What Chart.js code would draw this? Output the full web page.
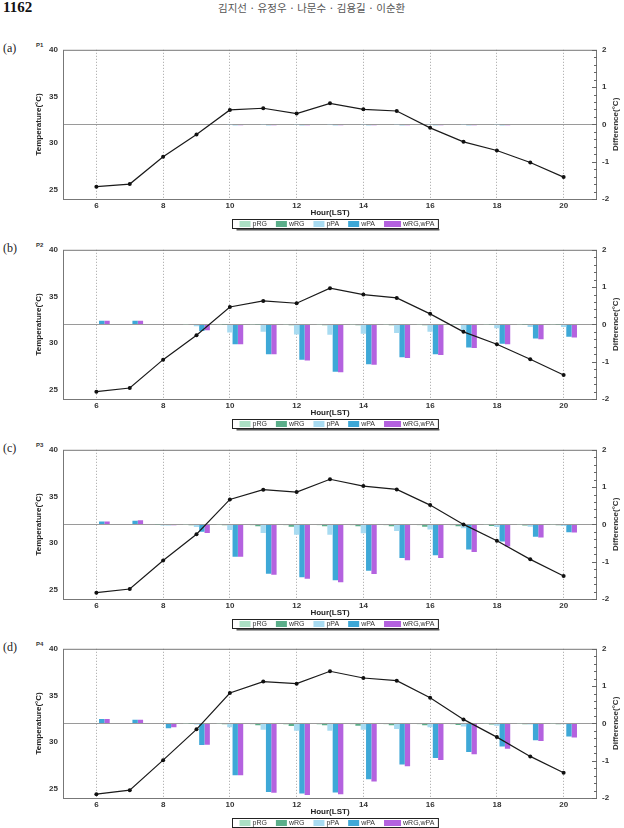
<!DOCTYPE html>
<html>
<head>
<meta charset="utf-8">
<script src="https://cdn.jsdelivr.net/npm/chart.js@4"></script>
<style>
body { margin: 0; background: #fff; width: 624px; height: 828px; position: relative; overflow: hidden; }
.panel { position: absolute; left: 0; width: 624px; height: 200px; }
.lab { position: absolute; left: 3px; font: 12px "Liberation Serif", serif; color: #222; }
.pn { position: absolute; left: 36px; font: bold 6px "Liberation Sans", sans-serif; color: #333; }
</style>
</head>
<body>
<div style="position:absolute;left:3px;top:-1px;font:bold 15px 'Liberation Serif',serif;color:#111">1162</div>
<div style="position:absolute;left:218px;top:0px;font:10.5px 'Noto Sans CJK KR',sans-serif;color:#555">김지선 · 유정우 · 나문수 · 김용길 · 이순환</div>

<div class="lab" style="top:41px">(a)</div><div class="pn" style="top:42px">P1</div>
<div class="lab" style="top:241px">(b)</div><div class="pn" style="top:242px">P2</div>
<div class="lab" style="top:441px">(c)</div><div class="pn" style="top:442px">P3</div>
<div class="lab" style="top:640px">(d)</div><div class="pn" style="top:641px">P4</div>

<canvas id="p1" class="panel" width="624" height="200" style="top:40px"></canvas>
<canvas id="p2" class="panel" width="624" height="200" style="top:240px"></canvas>
<canvas id="p3" class="panel" width="624" height="200" style="top:440px"></canvas>
<canvas id="p4" class="panel" width="624" height="200" style="top:639px"></canvas>

<script>
// horas (LST)
const hours = [6, 7, 8, 9, 10, 11, 12, 13, 14, 15, 16, 17, 18, 19, 20];
const seriesNames = ['pRG', 'wRG', 'pPA', 'wPA', 'wRG,wPA'];
const seriesColors = ['#acdfc4', '#5bae8a', '#a8dbf1', '#3ea8d7', '#b462df'];

// P1
const p1Temp  = [25.32, 25.6, 28.53, 30.91, 33.55, 33.73, 33.16, 34.26, 33.62, 33.44, 31.63, 30.13, 29.2, 27.92, 26.35];
const p1pRG   = [0, 0, 0, 0, 0, 0, 0, 0, 0, 0, 0, 0, 0, 0, 0];
const p1wRG   = [0, 0, 0, 0, 0, 0, 0, 0, 0, 0, 0, 0, 0, 0, 0];
const p1pPA   = [0, 0, 0, 0, -0.01, -0.01, -0.01, -0.01, -0.01, -0.01, -0.01, -0.01, -0.01, 0, 0];
const p1wPA   = [0, 0, 0, 0, -0.02, -0.02, -0.02, -0.02, -0.02, -0.02, -0.02, -0.02, -0.02, 0, 0];
const p1wRGwPA = [0, 0, 0, 0, -0.02, -0.02, -0.02, -0.02, -0.02, -0.02, -0.02, -0.02, -0.02, 0, 0];

// P2
const p2Temp  = [24.79, 25.18, 28.22, 30.83, 33.87, 34.52, 34.27, 35.88, 35.2, 34.84, 33.13, 31.2, 29.87, 28.26, 26.58];
const p2pRG   = [0, 0, 0, -0.01, -0.01, -0.01, -0.01, -0.01, -0.01, -0.01, -0.01, -0.01, -0.01, -0.01, -0.01];
const p2wRG   = [0, 0, 0, 0, -0.01, -0.01, -0.02, -0.02, -0.02, -0.02, -0.02, -0.01, -0.01, -0.01, -0.01];
const p2pPA   = [0, 0, 0, -0.05, -0.22, -0.2, -0.27, -0.28, -0.25, -0.23, -0.2, -0.15, -0.1, -0.07, -0.07];
const p2wPA   = [0.1, 0.1, 0, -0.18, -0.53, -0.8, -0.95, -1.27, -1.07, -0.88, -0.8, -0.62, -0.52, -0.38, -0.33];
const p2wRGwPA = [0.1, 0.1, 0, -0.16, -0.53, -0.8, -0.97, -1.28, -1.08, -0.9, -0.82, -0.63, -0.53, -0.4, -0.35];

// P3
const p3Temp  = [24.68, 25.07, 28.13, 30.94, 34.68, 35.72, 35.47, 36.84, 36.11, 35.75, 34.07, 32.0, 30.25, 28.25, 26.47];
const p3pRG   = [0, 0, 0, -0.01, -0.01, -0.02, -0.02, -0.02, -0.02, -0.02, -0.02, -0.02, -0.01, -0.01, -0.01];
const p3wRG   = [0, 0, -0.01, -0.02, -0.02, -0.05, -0.06, -0.05, -0.05, -0.05, -0.06, -0.05, -0.04, -0.03, -0.02];
const p3pPA   = [0, 0, -0.03, -0.07, -0.15, -0.23, -0.28, -0.28, -0.24, -0.18, -0.14, -0.1, -0.07, -0.06, -0.04];
const p3wPA   = [0.08, 0.1, -0.02, -0.2, -0.87, -1.32, -1.42, -1.5, -1.24, -0.9, -0.83, -0.67, -0.46, -0.33, -0.21];
const p3wRGwPA = [0.08, 0.11, -0.02, -0.23, -0.87, -1.35, -1.46, -1.55, -1.33, -0.96, -0.9, -0.74, -0.59, -0.35, -0.22];

// P4
const p4Temp  = [24.41, 24.84, 28.06, 31.36, 35.26, 36.48, 36.26, 37.59, 36.87, 36.58, 34.76, 32.43, 30.53, 28.46, 26.7];
const p4pRG   = [0, 0, 0, -0.01, -0.01, -0.02, -0.03, -0.03, -0.02, -0.02, -0.02, -0.02, -0.01, -0.01, -0.01];
const p4wRG   = [0, 0, 0, -0.01, -0.02, -0.05, -0.07, -0.05, -0.06, -0.05, -0.05, -0.04, -0.03, -0.02, -0.02];
const p4pPA   = [0, 0, 0, -0.03, -0.1, -0.17, -0.2, -0.2, -0.17, -0.15, -0.1, -0.08, -0.06, -0.03, -0.02];
const p4wPA   = [0.12, 0.1, -0.13, -0.58, -1.39, -1.84, -1.88, -1.85, -1.5, -1.1, -0.93, -0.77, -0.62, -0.45, -0.35];
const p4wRGwPA = [0.12, 0.1, -0.1, -0.57, -1.39, -1.86, -1.92, -1.9, -1.56, -1.15, -0.98, -0.83, -0.68, -0.47, -0.38];

const tickFont = { family: 'Liberation Sans', size: 8, weight: 'bold' };

// marco, ticks menores, titulo derecho y leyenda
const decoPlugin = {
    id: 'deco',
    afterDraw(chart) {
        const ctx = chart.ctx;
        const a = chart.chartArea;
        const y1 = chart.scales.y1;
        ctx.save();
        ctx.strokeStyle = '#777';
        ctx.lineWidth = 1;
        ctx.strokeRect(a.left + 0.5, a.top + 0.5, a.right - a.left - 1, a.bottom - a.top);

        // ticks del eje derecho
        ctx.strokeStyle = '#666';
        for (let k = -10; k <= 10; k++) {
            const py = Math.round(y1.getPixelForValue(k / 5)) + 0.5;
            const len = (k % 5 === 0) ? 5 : 3;
            ctx.beginPath();
            ctx.moveTo(a.right - len, py);
            ctx.lineTo(a.right, py);
            ctx.stroke();
        }

        // titulo derecho (abajo hacia arriba)
        ctx.fillStyle = '#333';
        ctx.font = 'bold 8px "Liberation Sans", sans-serif';
        ctx.translate(616, (a.top + a.bottom) / 2);
        ctx.rotate(-Math.PI / 2);
        ctx.textAlign = 'center';
        ctx.textBaseline = 'middle';
        ctx.fillText('Difference(\u00B0C)', 0, 0);
        ctx.restore();

        // leyenda
        ctx.save();
        ctx.font = '7px "Liberation Sans", sans-serif';
        const swW = [11, 11, 11, 11, 17];
        const gap = 9;
        let w = 0;
        seriesNames.forEach((n, i) => { w += swW[i] + 2 + ctx.measureText(n).width; });
        w += gap * (seriesNames.length - 1);
        const fw = w + 11;
        const fl = Math.round(334.5 - fw / 2) + 0.5;
        const ft = a.bottom + 20.5;
        const fh = 9;
        ctx.fillStyle = '#fff';
        ctx.fillRect(fl, ft, fw, fh);
        ctx.strokeStyle = '#555';
        ctx.lineWidth = 1.5;
        ctx.beginPath();
        ctx.moveTo(fl + 4, ft + fh + 1.2);
        ctx.lineTo(fl + fw + 1, ft + fh + 1.2);
        ctx.stroke();
        ctx.strokeStyle = '#222';
        ctx.lineWidth = 1;
        ctx.strokeRect(fl, ft, fw, fh);
        let x = fl + 7;
        ctx.textBaseline = 'middle';
        seriesNames.forEach((n, i) => {
            ctx.fillStyle = seriesColors[i];
            ctx.fillRect(x, ft + 1.5, swW[i], 6);
            x += swW[i] + 2;
            ctx.fillStyle = '#333';
            ctx.fillText(n, x, ft + 5);
            x += ctx.measureText(n).width + gap;
        });
        ctx.restore();
    }
};

function armarPanel(id, temp, series) {
    const datasets = [{
        type: 'line',
        label: 'T',
        data: hours.map((h, i) => ({ x: h, y: temp[i] })),
        yAxisID: 'y',
        borderColor: '#1a1a1a',
        borderWidth: 1.2,
        pointRadius: 2,
        pointBackgroundColor: '#111',
        pointBorderWidth: 0,
        tension: 0,
        order: 0
    }];
    series.forEach((vals, s) => {
        datasets.push({
            type: 'bar',
            label: seriesNames[s],
            data: hours.map((h, i) => ({ x: h, y: vals[i] })),
            yAxisID: 'y1',
            backgroundColor: seriesColors[s],
            borderWidth: 0,
            categoryPercentage: 0.8,
            barPercentage: 1,
            order: 1
        });
    });

    new Chart(document.getElementById(id), {
        type: 'bar',
        data: { datasets: datasets },
        plugins: [decoPlugin],
        options: {
            responsive: false,
            animation: false,
            devicePixelRatio: 1,
            layout: { padding: { top: 9, bottom: 21, left: 0, right: 0 } },
            plugins: { legend: { display: false }, tooltip: { enabled: false } },
            scales: {
                x: {
                    type: 'linear', min: 5, max: 21, offset: false,
                    afterFit: s => { s.height = 20; },
                    ticks: {
                        stepSize: 1, autoSkip: false, maxRotation: 0, padding: 2,
                        color: '#333', font: tickFont,
                        callback: v => (v % 2 === 0 && v >= 6 && v <= 20) ? v : ''
                    },
                    grid: {
                        offset: false, drawTicks: false, lineWidth: 0.8,
                        color: c => (c.tick && c.tick.value % 2 === 0 && c.tick.value > 5 && c.tick.value < 21) ? '#8a8a8a' : 'rgba(0,0,0,0)'
                    },
                    border: { display: false, dash: [1, 2] },
                    title: { display: true, text: 'Hour(LST)', color: '#222', font: tickFont, padding: { top: 0, bottom: 1 } }
                },
                y: {
                    position: 'left', min: 24, max: 40,
                    afterFit: s => { s.width = 63; },
                    ticks: { stepSize: 5, padding: 5, color: '#333', font: tickFont, callback: v => (v % 5 === 0) ? v : '' },
                    grid: { display: false, drawTicks: false },
                    border: { display: false },
                    title: { display: true, text: 'Temperature(\u00B0C)', color: '#222', font: tickFont, padding: { top: 34, bottom: 0 } }
                },
                y1: {
                    position: 'right', min: -2, max: 2,
                    afterFit: s => { s.width = 27; },
                    ticks: { stepSize: 1, padding: 5, color: '#333', font: tickFont },
                    grid: {
                        drawTicks: false, lineWidth: 1,
                        color: c => (c.tick && Math.abs(c.tick.value) < 1e-6) ? '#9a9a9a' : 'rgba(0,0,0,0)'
                    },
                    border: { display: false }
                }
            }
        }
    });
}

armarPanel('p1', p1Temp, [p1pRG, p1wRG, p1pPA, p1wPA, p1wRGwPA]);
armarPanel('p2', p2Temp, [p2pRG, p2wRG, p2pPA, p2wPA, p2wRGwPA]);
armarPanel('p3', p3Temp, [p3pRG, p3wRG, p3pPA, p3wPA, p3wRGwPA]);
armarPanel('p4', p4Temp, [p4pRG, p4wRG, p4pPA, p4wPA, p4wRGwPA]);
</script>
</body>
</html>
